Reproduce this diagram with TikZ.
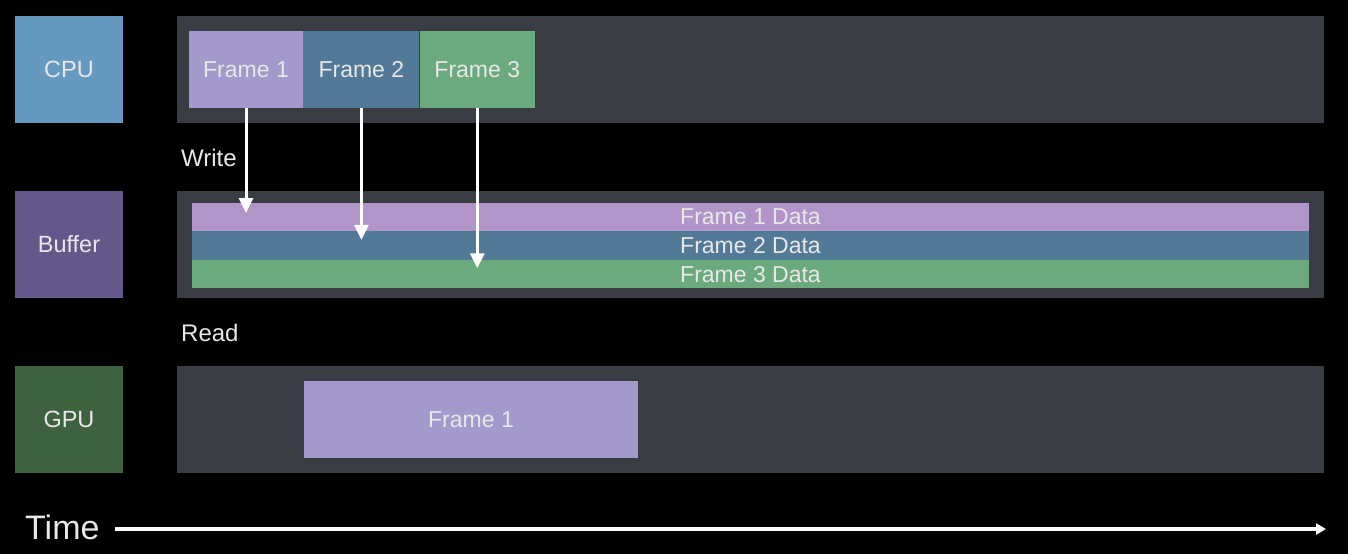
\documentclass[tikz,border=0pt]{standalone}
\usepackage{fontspec}
\setmainfont{Liberation Sans}
\usetikzlibrary{arrows.meta,positioning}
\definecolor{cpucol}{HTML}{6699C0}
\definecolor{bufcol}{HTML}{64578A}
\definecolor{gpucol}{HTML}{3E6140}
\definecolor{lanecol}{HTML}{393D43}
\definecolor{fonecol}{HTML}{A399CA}
\definecolor{ftwocol}{HTML}{527A96}
\definecolor{fthreecol}{HTML}{6BAA7C}
\definecolor{donecol}{HTML}{B194C8}
\definecolor{txtcol}{HTML}{E8E8E8}
\tikzset{
    %Define style for boxes
    unit/.style={
           rectangle,
           inner sep=0pt,
           minimum width=108pt,
           minimum height=107pt,
           font=\fontsize{23.5}{26}\selectfont,
           text=txtcol,
           text centered},
    lane/.style={
           rectangle,
           inner sep=0pt,
           fill=lanecol,
           minimum width=1147pt,
           minimum height=107pt},
    framebox/.style={
           rectangle,
           inner sep=0pt,
           minimum height=77pt,
           font=\fontsize{23}{26}\selectfont,
           text=txtcol,
           text centered},
    stripe/.style={
           rectangle,
           inner sep=0pt,
           minimum width=1117pt,
           minimum height=28pt,
           font=\fontsize{23}{24}\selectfont,
           text=txtcol,
           text centered},
    tag/.style={
           inner sep=0pt,
           anchor=west,
           font=\fontsize{24}{26}\selectfont,
           text=txtcol},
    % Define arrow style
    pil/.style={
           -{Triangle[width=14pt,length=15pt]},
           draw=white, fill=white,
           line width=3pt}
}
\begin{document}
\begin{tikzpicture}[x=1pt,y=-1pt]
\fill[black] (0,0) rectangle (1348,554);
\useasboundingbox (0,0) rectangle (1348,554);
 %nodes
\node[unit, fill=cpucol] (cpu) at (69,69.5) {CPU};
\node[unit, fill=bufcol] (buf) at (69,244.5) {Buffer};
\node[unit, fill=gpucol] (gpu) at (69,419.5) {GPU};

\node[lane] (cpulane) at (750.5,69.5) {};
\node[lane] (buflane) at (750.5,244.5) {};
\node[lane] (gpulane) at (750.5,419.5) {};

 %frames on the CPU
\node[framebox, fill=fonecol, minimum width=114pt] (f1) at (246,69.5) {Frame 1};
\node[framebox, fill=ftwocol, minimum width=116pt, right=0pt of f1] (f2) {Frame 2};
\node[framebox, fill=fthreecol, minimum width=115pt, right=0pt of f2] (f3) {Frame 3};

 %buffer data
\node[stripe, fill=donecol] (d1) at (750.5,216.5) {Frame 1 Data};
\node[stripe, fill=ftwocol, minimum height=29pt, below=0pt of d1] (d2) {Frame 2 Data};
\node[stripe, fill=fthreecol, below=0pt of d2] (d3) {Frame 3 Data};

 %frame on the GPU
\node[framebox, fill=fonecol, minimum width=334pt] (g1) at (471,419.5) {Frame 1};

\node[tag] (write) at (181,158) {Write};
\node[tag] (read) at (181,333) {Read};

 %write arrows
\coordinate (w1) at ([yshift=3.5pt]f1.south |- d1.center);
\coordinate (w2) at ([yshift=5.5pt]f2.south |- d2.center);
\coordinate (w3) at ([yshift=6pt]f3.south |- d3.center);
\draw[pil] (f1.south) -- (w1);
\draw[pil] (f2.south) -- (w2);
\draw[pil] (f3.south) -- (w3);

 %time axis
\node[inner sep=0pt, anchor=west, text=txtcol, font=\fontsize{34}{36}\selectfont] (time) at (25,527) {Time};
\coordinate (tstart) at (115,529);
\coordinate (tend) at (1326,529);
\draw[draw=white, fill=white, line width=3.5pt, -{Triangle[width=11pt,length=10pt]}] (tstart) -- (tend);
\end{tikzpicture}
\end{document}
